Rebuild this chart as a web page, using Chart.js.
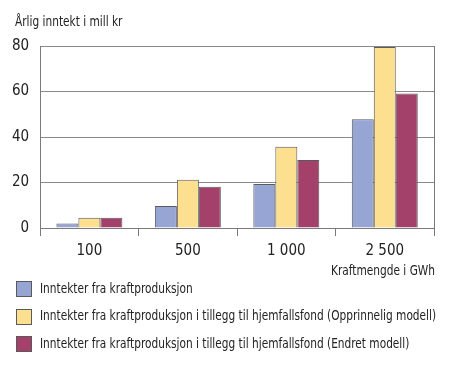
<!DOCTYPE html>
<html>
<head>
<meta charset="utf-8">
<script src="https://cdn.jsdelivr.net/npm/chart.js@4"></script>
<style>
  html, body { margin: 0; padding: 0; background: #fff; }
</style>
</head>
<body>
<canvas id="graf" width="450" height="369"></canvas>
<script>
// --- data ---
const kategorier = ['100', '500', '1 000', '2 500'];
const kraftproduksjon = [2, 9.7, 19.3, 47.8];
const opprinneligModell = [4.5, 21.2, 35.7, 79.6];
const endretModell = [4.5, 18.1, 29.9, 59.1];
const yTicks = [0, 20, 40, 60, 80];
const yTittel = 'Årlig inntekt i mill kr';
const xTittel = 'Kraftmengde i GWh';

const fontNavn = '"DejaVu Sans Condensed", "DejaVu Sans", sans-serif';
const strek = '#5a5a5a';
const tekstFarge = '#222';
const smal = 0.84; // teksten i originalen er smalere

// tegner tekst litt sammenpresset i bredden
function smalTekst(c, tekst, x, y, justering) {
  c.save();
  c.font = '14px ' + fontNavn;
  c.fillStyle = tekstFarge;
  c.textBaseline = 'middle';
  const b = c.measureText(tekst).width * smal;
  let x0 = x;
  if (justering === 'right') x0 = x - b;
  c.translate(x0, y);
  c.scale(smal, 1);
  c.textAlign = 'left';
  c.fillText(tekst, 0, 0);
  c.restore();
}

// aksetitler og forklaring under grafen
const tekstPlugin = {
  id: 'tekstPlugin',
  afterDraw(chart) {
    const c = chart.ctx;
    const omr = chart.chartArea;
    smalTekst(c, yTittel, 15, 22);
    smalTekst(c, xTittel, omr.right + 1, omr.bottom + 43, 'right');
    chart.data.datasets.forEach((ds, i) => {
      const yy = omr.bottom + 61 + i * 27.5;
      c.save();
      c.fillStyle = ds.backgroundColor;
      c.strokeStyle = strek;
      c.lineWidth = 1;
      c.fillRect(16, Math.round(yy - 8), 16, 16);
      c.strokeRect(16.5, Math.round(yy - 8) + 0.5, 15, 15);
      c.restore();
      smalTekst(c, ds.label, 40, yy);
    });
  }
};

const ctx = document.getElementById('graf').getContext('2d');
new Chart(ctx, {
  type: 'bar',
  data: {
    labels: kategorier,
    datasets: [{
      label: 'Inntekter fra kraftproduksjon',
      data: kraftproduksjon,
      backgroundColor: '#97a5d5',
      borderColor: strek,
      borderWidth: 1
    }, {
      label: 'Inntekter fra kraftproduksjon i tillegg til hjemfallsfond (Opprinnelig modell)',
      data: opprinneligModell,
      backgroundColor: '#fde08f',
      borderColor: strek,
      borderWidth: 1
    }, {
      label: 'Inntekter fra kraftproduksjon i tillegg til hjemfallsfond (Endret modell)',
      data: endretModell,
      backgroundColor: '#a3416b',
      borderColor: strek,
      borderWidth: 1
    }]
  },
  options: {
    responsive: false,
    animation: false,
    devicePixelRatio: 1,
    layout: { padding: { left: 1, right: 8, top: 46, bottom: 103 } },
    datasets: {
      bar: { categoryPercentage: 0.67, barPercentage: 1 }
    },
    scales: {
      x: {
        offset: true,
        grid: { display: true, offset: true, drawOnChartArea: false, drawTicks: true, tickLength: 8, color: '#7a7a7a' },
        border: { display: true, color: '#7a7a7a' },
        ticks: { color: tekstFarge, font: { family: fontNavn, size: 15 }, padding: 6 }
      },
      y: {
        min: 0,
        max: 80,
        afterBuildTicks: axis => { axis.ticks = yTicks.map(v => ({ value: v })); },
        grid: { color: '#8a8a8a', drawTicks: false },
        border: { display: true, color: '#7a7a7a' },
        ticks: { color: tekstFarge, font: { family: fontNavn, size: 15 }, padding: 11 }
      },
      y2: {
        position: 'right',
        min: 0,
        max: 80,
        grid: { display: false },
        border: { display: true, color: '#7a7a7a' },
        ticks: { display: false }
      }
    },
    plugins: {
      title: { display: false },
      legend: { display: false },
      tooltip: { enabled: false }
    }
  },
  plugins: [tekstPlugin]
});
</script>
</body>
</html>
